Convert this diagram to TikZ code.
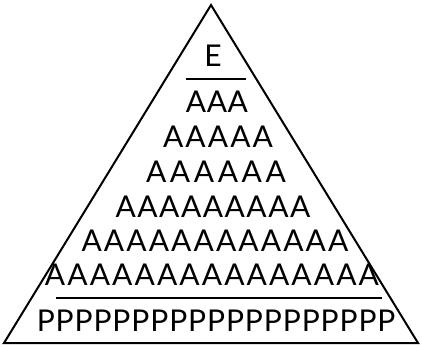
\documentclass[tikz,border=0pt]{standalone}
\usepackage{fontspec}
\setmainfont{Lato}
\begin{document}
\begin{tikzpicture}[x=1pt,y=-1pt,
  row/.style={inner sep=0pt, font=\fontsize{30}{32}\selectfont}]
  \useasboundingbox (0,0) rectangle (422,346);
  \draw[line width=2pt] (211,5) -- (418,343) -- (4,343) -- cycle;
  \node[row] (top) at (213,56) {E};
  \coordinate (topL) at (186,79);
  \coordinate (topR) at (246,79);
  \draw[line width=1.6pt] (topL) -- (topR);
  \node[row] (rowa) at (217,102) {\addfontfeature{LetterSpace=2}AAA};
  \node[row] (rowb) at (218,137) {\addfontfeature{LetterSpace=7}AAAAA};
  \node[row] (rowc) at (216,172) {\addfontfeature{LetterSpace=12}AAAAAA};
  \node[row] (rowd) at (213,207) {\addfontfeature{LetterSpace=5}AAAAAAAAA};
  \node[row] (rowe) at (215,241) {\addfontfeature{LetterSpace=7}AAAAAAAAAAAA};
  \node[row] (rowf) at (212,275) {\addfontfeature{LetterSpace=7}AAAAAAAAAAAAAAA};
  \coordinate (baseL) at (56,298);
  \coordinate (baseR) at (382,298);
  \draw[line width=1.6pt] (baseL) -- (baseR);
  \node[row] (rowp) at (216,321) {\addfontfeature{LetterSpace=3}PPPPPPPPPPPPPPPPPPP};
\end{tikzpicture}
\end{document}
